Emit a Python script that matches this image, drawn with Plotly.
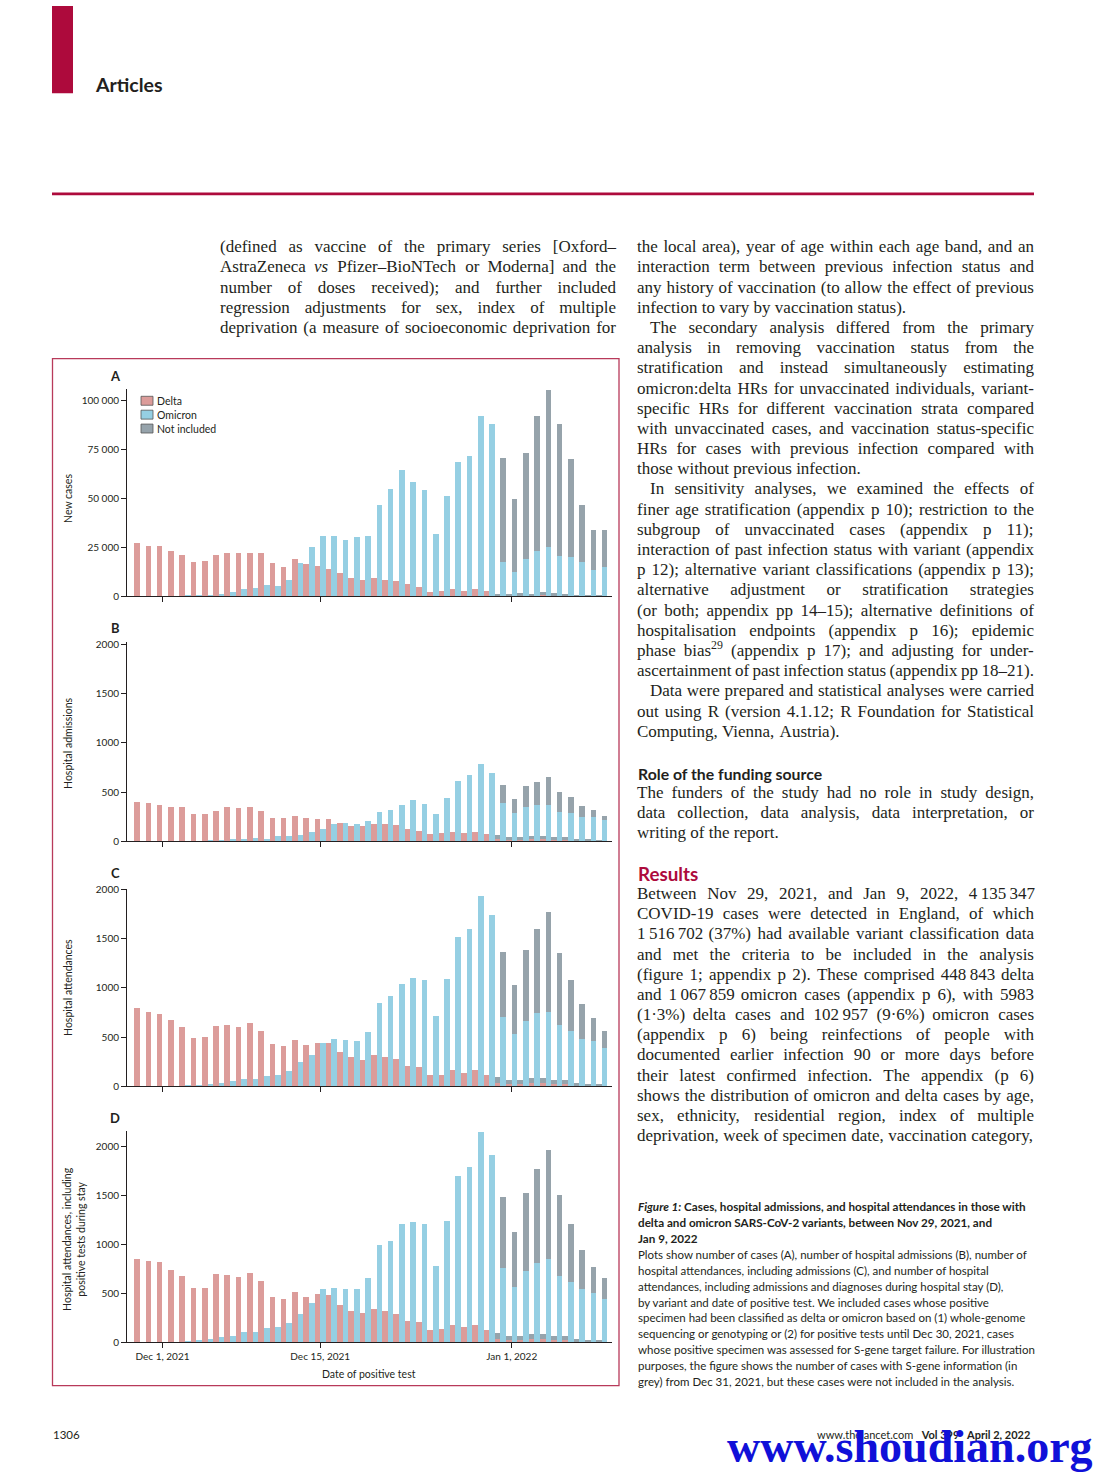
import re
import plotly.graph_objects as go

W, H = 1102, 1480

# ---------------- data ----------------
dates = (["Nov 29", "Nov 30"] + ["Dec %d" % d for d in range(1, 32)]
         + ["Jan %d" % d for d in range(1, 10)])
ni_dates = dates[32:]          # Dec 31 .. Jan 9 (S-gene, not included)

# A: new cases
cases_delta = [27500, 25500, 25500, 23000, 21000, 17500, 18000, 21000, 22000, 22000,
               22000, 22000, 17000, 15000, 19000, 16500, 15500, 14200, 11700, 9600,
               8600, 9600, 8500, 7600, 6400, 4900, 2000, 2900, 3900, 2900,
               3900, 2500, 500, 300, 600, 500, 800, 600, 300, 150,
               150, 150]
cases_delta_ni = [700, 500, 900, 700, 1400, 900, 500, 150, 150, 150]
cases_omicron = [0, 0, 0, 100, 200, 300, 500, 1000, 2000, 3500,
                 4500, 6000, 5500, 8500, 17000, 25000, 31000, 31000, 29000, 30500,
                 31000, 46600, 54800, 64500, 58400, 54300, 32000, 51300, 68500, 71900,
                 92500, 88000, 17400, 12300, 19300, 23200, 25400, 20800, 20000, 17400,
                 13700, 14900]
cases_omicron_ni = [53600, 37700, 54000, 69000, 80300, 67200, 50200, 29100, 20300, 19100]

# B: hospital admissions
adm_delta = [405, 395, 374, 354, 354, 283, 283, 314, 354, 344,
             354, 314, 243, 233, 263, 233, 223, 232, 192, 152,
             152, 172, 172, 162, 121, 101, 71, 81, 91, 81,
             91, 71, 25, 15, 15, 20, 20, 15, 15, 8,
             8, 4]
adm_delta_ni = [36, 25, 25, 30, 30, 25, 25, 9, 9, 3]
adm_omicron = [0, 0, 0, 0, 2, 3, 5, 10, 20, 22,
               30, 27, 50, 50, 60, 100, 121, 182, 192, 172,
               212, 303, 323, 374, 424, 384, 283, 445, 617, 677,
               789, 698, 394, 293, 354, 374, 374, 303, 293, 253,
               253, 222]
adm_omicron_ni = [183, 142, 212, 233, 283, 203, 162, 111, 70, 41]

# C: hospital attendances
att_delta = [798, 758, 737, 677, 606, 495, 505, 616, 626, 606,
             646, 566, 434, 414, 475, 424, 443, 443, 354, 303,
             273, 323, 303, 283, 212, 202, 121, 121, 162, 141,
             162, 121, 35, 25, 25, 30, 30, 25, 25, 12,
             8, 7]
att_delta_ni = [56, 36, 36, 51, 51, 36, 36, 18, 12, 10]
att_omicron = [0, 0, 0, 0, 5, 10, 25, 35, 55, 75,
               75, 105, 115, 155, 250, 320, 443, 485, 475, 465,
               556, 848, 919, 1040, 1101, 1081, 717, 1091, 1525, 1606,
               1939, 1747, 710, 529, 670, 747, 758, 630, 559, 478,
               458, 387]
att_omicron_ni = [654, 501, 714, 859, 1020, 730, 522, 360, 239, 179]

# D: hospital attendances incl. positive tests during stay
stay_delta = [848, 828, 818, 737, 677, 556, 556, 697, 687, 667,
              707, 626, 465, 444, 515, 465, 495, 485, 384, 323,
              296, 343, 323, 293, 222, 212, 121, 131, 172, 152,
              172, 121, 35, 25, 25, 30, 30, 25, 25, 12,
              8, 8]
stay_delta_ni = [56, 36, 36, 51, 51, 36, 36, 18, 12, 12]
stay_omicron = [0, 0, 0, 0, 13, 20, 30, 50, 60, 101,
                101, 141, 152, 192, 293, 404, 545, 556, 545, 545,
                657, 990, 1040, 1212, 1232, 1212, 778, 1242, 1697, 1788,
                2152, 1919, 758, 566, 727, 808, 848, 677, 616, 545,
                505, 444]
stay_omicron_ni = [727, 565, 798, 960, 1122, 828, 596, 394, 263, 213]

x_tickvals = ["Dec 1", "Dec 15", "Jan 1"]
x_ticktext = ["Dec 1, 2021", "Dec 15, 2021", "Jan 1, 2022"]
y_ticks_cases = [0, 25000, 50000, 75000, 100000]
y_ticktext_cases = ["0", "25 000", "50 000", "75 000", "100 000"]
y_ticks_hosp = [0, 500, 1000, 1500, 2000]
y_ticktext_hosp = ["0", "500", "1000", "1500", "2000"]
panel_titles = ["New cases", "Hospital admissions", "Hospital attendances",
                "Hospital attendances, including<br>positive tests during stay"]
panel_letters = ["A", "B", "C", "D"]
legend_names = ["Delta", "Omicron", "Not included"]

# ---------------- style ----------------
INK = "#231f20"
CRIMSON = "#ad0a3c"
DELTA = "#dc9c9a"
OMI = "#95cfe3"
GREY = "#96a3ab"
SANS = "Lato"
SERIF = "Liberation Serif"


def PX(x):
    return x / W


def PY(y):
    return 1 - y / H


def note(text, x, y, size, color=INK, family=SANS, xanchor="center", **kw):
    d = dict(text=text, x=PX(x), y=PY(y), xref="paper", yref="paper",
             xanchor=xanchor, yanchor="middle", showarrow=False, borderpad=0,
             font=dict(family=family, size=size, color=color))
    d.update(kw)
    return d


fig = go.Figure()

panels = [
    (cases_delta, cases_delta_ni, cases_omicron, cases_omicron_ni, 386, 595, 106100,
     y_ticks_cases, y_ticktext_cases, 373, 497, 68),
    (adm_delta, adm_delta_ni, adm_omicron, adm_omicron_ni, 641, 842, 2030,
     y_ticks_hosp, y_ticktext_hosp, 627, 743, 68),
    (att_delta, att_delta_ni, att_omicron, att_omicron_ni, 890, 1089, 2010,
     y_ticks_hosp, y_ticktext_hosp, 874, 990, 68),
    (stay_delta, stay_delta_ni, stay_omicron, stay_omicron_ni, 1134, 1347, 2160,
     y_ticks_hosp, y_ticktext_hosp, 1121, 1243, 74),
]

annotations = []
shapes = []
layout_axes = {}
tickfont = dict(family=SANS, size=10, color=INK)

for n, (d, dni, o, oni, ytop, yzero, ymax, tv, tt, ly, ty, tx) in enumerate(panels, start=1):
    xa = "x" if n == 1 else "x%d" % n
    ya = "y" if n == 1 else "y%d" % n
    common = dict(xaxis=xa, yaxis=ya, showlegend=False, hoverinfo="x+y",
                  marker_line_width=0)
    fig.add_trace(go.Bar(x=dates, y=d, offsetgroup="delta", marker_color=DELTA,
                         name="Delta", **common))
    fig.add_trace(go.Bar(x=ni_dates, y=dni, base=d[32:], offsetgroup="delta",
                         marker_color=GREY, name="Not included", **common))
    fig.add_trace(go.Bar(x=dates, y=o, offsetgroup="omicron", marker_color=OMI,
                         name="Omicron", **common))
    fig.add_trace(go.Bar(x=ni_dates, y=oni, base=o[32:], offsetgroup="omicron",
                         marker_color=GREY, name="Not included", **common))

    xkey = "xaxis" if n == 1 else "xaxis%d" % n
    ykey = "yaxis" if n == 1 else "yaxis%d" % n
    layout_axes[xkey] = dict(
        domain=[PX(127), PX(612)], anchor=ya, type="category",
        categoryorder="array", categoryarray=dates, range=[-1.15, 41.9],
        showline=True, linecolor=INK, linewidth=1, ticks="outside", ticklen=5,
        tickwidth=1, tickcolor=INK, tickvals=x_tickvals, ticktext=x_ticktext,
        showticklabels=(n == 4), tickfont=tickfont, showgrid=False, zeroline=False,
        fixedrange=True)
    layout_axes[ykey] = dict(
        domain=[PY(yzero), PY(ytop)], anchor=xa, range=[0, ymax],
        showline=True, linecolor=INK, linewidth=1, ticks="outside", ticklen=5,
        tickwidth=1, tickcolor=INK, tickvals=tv, ticktext=tt, tickfont=tickfont,
        showgrid=False, zeroline=False, fixedrange=True)

    annotations.append(note("<b>%s</b>" % panel_letters[n - 1], 115, ly, 13))
    annotations.append(note(panel_titles[n - 1], tx, ty, 10.5, textangle=-90))

annotations.append(note("Date of positive test", 369, 1379, 10.5))

# legend (panel A)
for i, (nm, col) in enumerate(zip(legend_names, [DELTA, OMI, GREY])):
    yc = 398 + 14 * i
    shapes.append(dict(type="rect", xref="paper", yref="paper", x0=PX(141), x1=PX(153),
                       y0=PY(yc + 4.5), y1=PY(yc - 4.5), fillcolor=col,
                       line=dict(color="#555555", width=0.8)))
    annotations.append(note(nm, 156, yc, 10.5, xanchor="left"))

# page decoration
shapes.append(dict(type="rect", xref="paper", yref="paper", x0=PX(52), x1=PX(73),
                   y0=PY(88), y1=PY(0), fillcolor=CRIMSON, line=dict(width=0)))
shapes.append(dict(type="line", xref="paper", yref="paper", x0=PX(52), x1=PX(1034),
                   y0=PY(189.5), y1=PY(189.5), line=dict(color=CRIMSON, width=2.8)))
shapes.append(dict(type="rect", xref="paper", yref="paper", x0=PX(52.5), x1=PX(619),
                   y0=PY(1391), y1=PY(355.5), line=dict(color="#b83a5a", width=1.3)))

annotations.append(note("<b>Articles</b>", 94, 79, 19.5, xanchor="left"))
annotations.append(note("<b>Role of the funding source</b>", 637, 774, 15.8, xanchor="left"))
annotations.append(note("<b>Results</b>", 637, 875, 18.8, color=CRIMSON, xanchor="left"))

caption = [
    "<b><i>Figure 1:</i> Cases, hospital admissions, and hospital attendances in those with</b>",
    "<b>delta and omicron SARS-CoV-2 variants, between Nov 29, 2021, and</b>",
    "<b>Jan 9, 2022</b>",
    "Plots show number of cases (A), number of hospital admissions (B), number of",
    "hospital attendances, including admissions (C), and number of hospital",
    "attendances, including admissions and diagnoses during hospital stay (D),",
    "by variant and date of positive test. We included cases whose positive",
    "specimen had been classified as delta or omicron based on (1) whole-genome",
    "sequencing or genotyping or (2) for positive tests until Dec 30, 2021, cases",
    "whose positive specimen was assessed for S-gene target failure. For illustration",
    "purposes, the figure shows the number of cases with S-gene information (in",
    "grey) from Dec 31, 2021, but these cases were not included in the analysis.",
]
for i, line in enumerate(caption):
    annotations.append(note(line, 637, 1210 + 16.1 * i, 11.5 if i > 2 else 11.7,
                            xanchor="left"))

annotations.append(note("1306", 52, 1440, 11.5, xanchor="left"))
annotations.append(note("www.thelancet.com   <b>Vol 399   April 2, 2022</b>", 1031, 1440, 11,
                        xanchor="right"))
annotations.append(note("<b>www.shoudian.org</b>", 910, 1452, 46, color="#1010d8",
                        family=SERIF))

# ---------------- body text (justified, Times metrics) ----------------
TIMES = {' ': 250, ',': 250, '.': 250, ';': 278, ':': 278, '(': 333, ')': 333,
         '[': 333, ']': 333, '-': 333, '–': 500, '—': 1000, '%': 833, '·': 250,
         '\u2009': 167, '/': 278, "'": 180}
for ch, w in zip("abcdefghijklmnopqrstuvwxyz",
                 [444, 500, 444, 500, 444, 333, 500, 500, 278, 278, 500, 278, 778,
                  500, 500, 500, 500, 333, 389, 278, 500, 500, 722, 500, 500, 444]):
    TIMES[ch] = w
for ch, w in zip("ABCDEFGHIJKLMNOPQRSTUVWXYZ",
                 [722, 667, 667, 722, 611, 556, 722, 722, 333, 389, 722, 611, 889,
                  722, 722, 556, 722, 667, 556, 611, 722, 722, 944, 722, 722, 611]):
    TIMES[ch] = w
for ch in "0123456789":
    TIMES[ch] = 500

BODY = 17.0


def word_width(word):
    total = 0.0
    sup = False
    for tok in re.split(r"(<[^>]+>)", word):
        if tok == "<sup>":
            sup = True
            continue
        if tok == "</sup>":
            sup = False
            continue
        if tok.startswith("<"):
            continue
        for ch in tok:
            total += TIMES.get(ch, 500) * (0.7 if sup else 1.0)
    return total * BODY / 1000.0


T = "\u2009"
left_lines = [
    "(defined as vaccine of the primary series [Oxford–",
    "AstraZeneca <i>vs</i> Pfizer–BioNTech or Moderna] and the",
    "number of doses received); and further included",
    "regression adjustments for sex, index of multiple",
    "deprivation (a measure of socioeconomic deprivation for",
]
# (text, indent, justified)
right_block1 = [
    ("the local area), year of age within each age band, and an", 0, True),
    ("interaction term between previous infection status and", 0, True),
    ("any history of vaccination (to allow the effect of previous", 0, True),
    ("infection to vary by vaccination status).", 0, False),
    ("The secondary analysis differed from the primary", 13, True),
    ("analysis in removing vaccination status from the", 0, True),
    ("stratification and instead simultaneously estimating", 0, True),
    ("omicron:delta HRs for unvaccinated individuals, variant-", 0, True),
    ("specific HRs for different vaccination strata compared", 0, True),
    ("with unvaccinated cases, and vaccination status-specific", 0, True),
    ("HRs for cases with previous infection compared with", 0, True),
    ("those without previous infection.", 0, False),
    ("In sensitivity analyses, we examined the effects of", 13, True),
    ("finer age stratification (appendix p 10); restriction to the", 0, True),
    ("subgroup of unvaccinated cases (appendix p 11);", 0, True),
    ("interaction of past infection status with variant (appendix", 0, True),
    ("p 12); alternative variant classifications (appendix p 13);", 0, True),
    ("alternative adjustment or stratification strategies", 0, True),
    ("(or both; appendix pp 14–15); alternative definitions of", 0, True),
    ("hospitalisation endpoints (appendix p 16); epidemic", 0, True),
    ("phase bias<sup>29</sup> (appendix p 17); and adjusting for under-", 0, True),
    ("ascertainment of past infection status (appendix pp 18–21).", 0, True),
    ("Data were prepared and statistical analyses were carried", 13, True),
    ("out using R (version 4.1.12; R Foundation for Statistical", 0, True),
    ("Computing, Vienna, Austria).", 0, False),
]
right_block2 = [
    ("The funders of the study had no role in study design,", 0, True),
    ("data collection, data analysis, data interpretation, or", 0, True),
    ("writing of the report.", 0, False),
]
right_block3 = [
    ("Between Nov 29, 2021, and Jan 9, 2022, 4" + T + "135" + T + "347", 0, True),
    ("COVID-19 cases were detected in England, of which", 0, True),
    ("1" + T + "516" + T + "702 (37%) had available variant classification data", 0, True),
    ("and met the criteria to be included in the analysis", 0, True),
    ("(figure 1; appendix p 2). These comprised 448" + T + "843 delta", 0, True),
    ("and 1" + T + "067" + T + "859 omicron cases (appendix p 6), with 5983", 0, True),
    ("(1·3%) delta cases and 102" + T + "957 (9·6%) omicron cases", 0, True),
    ("(appendix p 6) being reinfections of people with", 0, True),
    ("documented earlier infection 90 or more days before", 0, True),
    ("their latest confirmed infection. The appendix (p 6)", 0, True),
    ("shows the distribution of omicron and delta cases by age,", 0, True),
    ("sex, ethnicity, residential region, index of multiple", 0, True),
    ("deprivation, week of specimen date, vaccination category,", 0, True),
]

LEAD = 20.35
body_lines = []
for i, t in enumerate(left_lines):
    body_lines.append((t, 220, 616, 244 + LEAD * i, True))
for i, (t, ind, j) in enumerate(right_block1):
    body_lines.append((t, 637 + ind, 1034, 244 + LEAD * i, j))
for i, (t, ind, j) in enumerate(right_block2):
    body_lines.append((t, 637 + ind, 1034, 794 + LEAD * i, j))
for i, (t, ind, j) in enumerate(right_block3):
    body_lines.append((t, 637 + ind, 1034, 896 + LEAD * i, j))

wx, wy, wt = [], [], []
for text, x0, x1, y, just in body_lines:
    words = text.split(" ")
    widths = [word_width(w) for w in words]
    natural_gap = TIMES[" "] * BODY / 1000.0
    if just and len(words) > 1:
        gap = max((x1 - x0 - sum(widths)) / (len(words) - 1), 0.15 * BODY)
    else:
        gap = natural_gap
    x = x0
    for w, ww in zip(words, widths):
        wx.append(x)
        wy.append(y)
        wt.append(w)
        x += ww + gap

fig.add_trace(go.Scatter(x=wx, y=wy, text=wt, mode="text", textposition="middle right",
                         textfont=dict(family=SERIF, size=BODY, color=INK),
                         xaxis="x5", yaxis="y5", showlegend=False, hoverinfo="skip",
                         cliponaxis=False))
layout_axes["xaxis5"] = dict(domain=[0, 1], range=[0, W], anchor="y5", visible=False,
                             fixedrange=True)
layout_axes["yaxis5"] = dict(domain=[0, 1], range=[H, 0], anchor="x5", visible=False,
                             fixedrange=True)

fig.update_layout(
    width=W, height=H, margin=dict(l=0, r=0, t=0, b=0),
    paper_bgcolor="white", plot_bgcolor="rgba(0,0,0,0)",
    barmode="group", bargap=0.0, bargroupgap=0.0, showlegend=False,
    annotations=annotations, shapes=shapes, **layout_axes)

fig.write_html("out.html", config={"displayModeBar": False},
               post_script="document.body.style.margin='0px';"
                           "document.body.style.overflow='hidden';")
